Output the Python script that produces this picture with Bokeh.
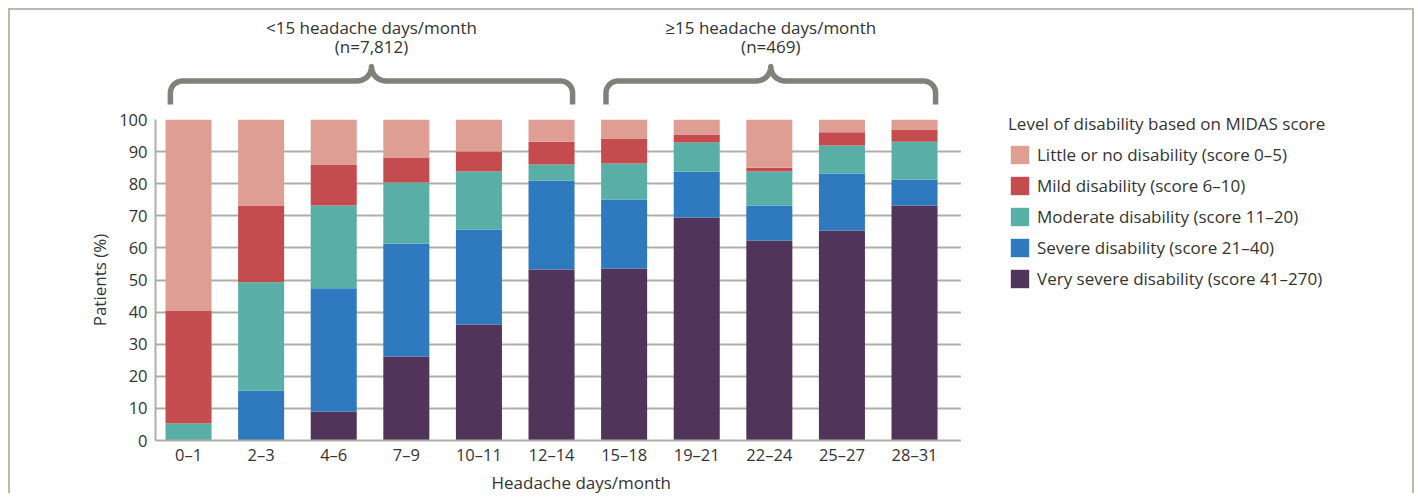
import numpy as np
from bokeh.plotting import figure
from bokeh.models import (Range1d, FixedTicker, Legend, LegendItem, Title,
                          ColumnDataSource)
from bokeh.layouts import column, row
from bokeh.embed import file_html
from bokeh.resources import INLINE
from bokeh.core.properties import value

# ---------------- data ----------------
categories = ["0–1", "2–3", "4–6", "7–9", "10–11", "12–14",
              "15–18", "19–21", "22–24", "25–27", "28–31"]
very_severe = [0.0, 0.0, 9.0, 26.2, 36.1, 53.3, 53.6, 69.5, 62.3, 65.4, 73.2]
severe      = [0.0, 15.6, 38.4, 35.2, 29.6, 27.7, 21.5, 14.3, 10.9, 17.8, 8.1]
moderate    = [5.4, 33.7, 25.8, 19.0, 18.1, 5.0, 11.2, 9.0, 10.6, 8.7, 11.8]
mild        = [35.1, 23.9, 12.8, 7.8, 6.2, 7.1, 7.8, 2.5, 1.2, 4.1, 3.8]
little      = [59.5, 26.8, 14.0, 11.8, 10.0, 6.9, 5.9, 4.7, 15.0, 4.0, 3.1]

series_labels = ["Very severe disability (score 41–270)",
                 "Severe disability (score 21–40)",
                 "Moderate disability (score 11–20)",
                 "Mild disability (score 6–10)",
                 "Little or no disability (score 0–5)"]
series_colors = ["#50345a", "#2f79be", "#59afa5", "#c44b4e", "#df9e94"]
legend_title = "Level of disability based on MIDAS score"

group_titles = ["<15 headache days/month", "≥15 headache days/month"]
group_counts = ["(n=7,812)", "(n=469)"]
group_first = [0, 6]
group_last = [5, 10]

y_ticks = list(range(0, 101, 10))
x_title = "Headache days/month"
y_title = "Patients (%)"

# ---------------- styling ----------------
FONT = "Open Sans"
TXT = "#333333"
GRID = "#aeafa7"
BRACE = "#80827a"
W = 1402          # full content width
WL = 451          # legend panel width
WC = W - WL       # chart column width
ML = 145
H_TOP = 98
H_MAIN = 385
x_range = Range1d(-0.455, 10.647)
ppu = (WC - ML) / (x_range.end - x_range.start)

xs = list(range(len(categories)))
keys = ["vs", "s", "mod", "mild", "little"]
src = ColumnDataSource(dict(x=xs, vs=very_severe, s=severe, mod=moderate,
                            mild=mild, little=little))

# ---------------- top (braces) ----------------
pt = figure(width=WC, height=H_TOP, x_range=x_range,
            y_range=Range1d(0, H_TOP), x_axis_type=None, y_axis_type=None,
            output_backend="svg", toolbar_location=None, min_border_left=ML,
            min_border_right=0, min_border_top=0, min_border_bottom=0,
            outline_line_color=None)
pt.grid.visible = False


def brace_path(xl, xr):
    yb, yh, yt = 4.0, 27.5, 42.0
    rc = 12.0
    rt = yt - yh
    xc = (xl + xr) / 2
    bx, by = [xl], [yb]
    for t in np.linspace(np.pi, np.pi / 2, 12):
        bx.append(xl + (rc + rc * np.cos(t)) / ppu)
        by.append(yh - rc + rc * np.sin(t))
    for t in np.linspace(-np.pi / 2, 0, 12):
        bx.append(xc + (-rt + rt * np.cos(t)) / ppu)
        by.append(yh + rt + rt * np.sin(t))
    for t in np.linspace(np.pi, 3 * np.pi / 2, 12):
        bx.append(xc + (rt + rt * np.cos(t)) / ppu)
        by.append(yh + rt + rt * np.sin(t))
    for t in np.linspace(np.pi / 2, 0, 12):
        bx.append(xr + (-rc + rc * np.cos(t)) / ppu)
        by.append(yh - rc + rc * np.sin(t))
    bx.append(xr)
    by.append(yb)
    return bx, by


bxs, bys, cx = [], [], []
for a, b in zip(group_first, group_last):
    xl, xr = a - 0.25, b + 0.29
    px, py = brace_path(xl, xr)
    bxs.append(px)
    bys.append(py)
    cx.append((xl + xr) / 2)
pt.multi_line(bxs, bys, line_color=BRACE, line_width=5.5,
              line_join="round", line_cap="butt")
pt.text(x=cx, y=[81] * len(cx), text=group_titles, text_align="center",
        text_baseline="middle", text_font=value(FONT),
        text_font_size="17px", text_color=TXT)
pt.text(x=cx, y=[62] * len(cx), text=group_counts, text_align="center",
        text_baseline="middle", text_font=value(FONT),
        text_font_size="17px", text_color=TXT)

# ---------------- main chart ----------------
p = figure(width=WC, height=H_MAIN, x_range=x_range,
           y_range=Range1d(0, 100), output_backend="svg",
           toolbar_location=None, min_border_left=ML, min_border_right=0,
           min_border_top=11, min_border_bottom=53, outline_line_color=None)

rs = p.vbar_stack(keys, x="x", width=0.634, color=series_colors,
                  line_color=None, source=src)

p.xgrid.visible = False
p.ygrid.grid_line_color = GRID
p.ygrid.grid_line_width = 2
p.ygrid.ticker = FixedTicker(ticks=y_ticks)

p.yaxis.ticker = FixedTicker(ticks=y_ticks)
p.xaxis.ticker = FixedTicker(ticks=xs)
p.xaxis.major_label_overrides = {i: c for i, c in enumerate(categories)}
for ax in (p.xaxis[0], p.yaxis[0]):
    ax.major_tick_line_color = None
    ax.minor_tick_line_color = None
    ax.major_tick_out = 0
    ax.major_tick_in = 0
    ax.minor_tick_out = 0
    ax.minor_tick_in = 0
    ax.axis_line_color = GRID
    ax.axis_line_width = 2
    ax.major_label_text_font = FONT
    ax.major_label_text_font_size = "16.5px"
    ax.major_label_text_color = TXT
p.yaxis.major_label_standoff = 8
p.xaxis.major_label_standoff = 2
p.yaxis.axis_label = y_title
p.yaxis.axis_label_text_font = FONT
p.yaxis.axis_label_text_font_size = "17px"
p.yaxis.axis_label_text_font_style = "normal"
p.yaxis.axis_label_text_color = TXT
p.yaxis.axis_label_standoff = 5

xt = Title(text=x_title, align="left", offset=336, standoff=0,
           text_font=FONT, text_font_size="17px", text_font_style="normal",
           text_color=TXT)
p.add_layout(xt, "below")

# ---------------- legend panel (full height) ----------------
pl = figure(width=WL, height=H_TOP + H_MAIN, x_range=Range1d(0, 1),
            y_range=Range1d(0, 1), x_axis_type=None, y_axis_type=None,
            output_backend="svg", toolbar_location=None, min_border_left=0,
            min_border_right=0, min_border_top=0, min_border_bottom=0,
            outline_line_color=None)
pl.grid.visible = False
# zero-size swatch renderers (legend keys only, nothing visible in the frame)
swatches = [pl.vbar(x=[-5], top=[-5], bottom=[-5], width=0.01, color=c,
                    line_color=None)
            for c in series_colors]

items = [LegendItem(label=lab, renderers=[r])
         for lab, r in zip(series_labels[::-1], swatches[::-1])]
leg = Legend(items=items, location=(47, 203), title=legend_title,
             title_text_font=FONT, title_text_font_size="17px",
             title_text_font_style="normal", title_text_color=TXT,
             title_standoff=8, glyph_width=23, glyph_height=23,
             label_height=23, spacing=8, label_standoff=6, padding=0,
             margin=0, border_line_color=None, background_fill_alpha=0,
             label_text_font=FONT, label_text_font_size="17px",
             label_text_color=TXT)
pl.add_layout(leg, "center")

layout = row(column(pt, p, spacing=0), pl, spacing=0,
             styles={"margin-left": "8px", "margin-top": "8px",
                     "border-left": "2px solid #b9bbad",
                     "border-top": "2px solid #b9bbad",
                     "border-right": "2px solid #b9bbad"})

open("out.html", "w").write(file_html(layout, INLINE))
